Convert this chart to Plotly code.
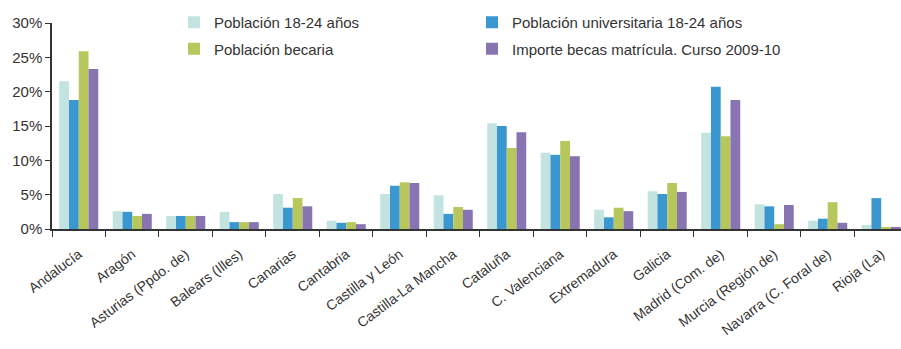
import plotly.graph_objects as go

categories = ["Andalucía", "Aragón", "Asturias (Ppdo. de)", "Balears (Illes)", "Canarias",
              "Cantabria", "Castilla y León", "Castilla-La Mancha", "Cataluña", "C. Valenciana",
              "Extremadura", "Galicia", "Madrid (Com. de)", "Murcia (Región de)",
              "Navarra (C. Foral de)", "Rioja (La)"]

pob_18_24 = [21.5, 2.6, 1.9, 2.5, 5.1, 1.2, 5.1, 4.9, 15.4, 11.1, 2.8, 5.5, 14.0, 3.6, 1.2, 0.6]
pob_univ = [18.8, 2.5, 1.9, 1.0, 3.1, 0.9, 6.3, 2.2, 15.0, 10.8, 1.7, 5.1, 20.7, 3.3, 1.5, 4.5]
pob_becaria = [25.9, 1.9, 1.9, 1.0, 4.5, 1.0, 6.8, 3.2, 11.8, 12.8, 3.1, 6.7, 13.5, 0.7, 3.9, 0.3]
importe = [23.3, 2.2, 1.9, 1.0, 3.3, 0.7, 6.7, 2.8, 14.1, 10.6, 2.6, 5.4, 18.8, 3.5, 0.9, 0.3]

series_names = ["Población 18-24 años", "Población universitaria 18-24 años",
                "Población becaria", "Importe becas matrícula. Curso 2009-10"]
colors = ["#c3e3e1", "#3a97d0", "#b8c75c", "#8874b0"]
legends = ["legend", "legend2", "legend", "legend2"]

y_ticks = [0, 5, 10, 15, 20, 25, 30]
y_ticktext = [f"{v}%" for v in y_ticks]

fig = go.Figure()
for name, vals, col, lg in zip(series_names, [pob_18_24, pob_univ, pob_becaria, importe], colors, legends):
    fig.add_trace(go.Bar(x=categories, y=vals, name=name, marker_color=col,
                         marker_line_width=0, legend=lg, legendgroup=name))

font_family = "Liberation Sans, Arial, sans-serif"
legend_common = dict(xanchor="left", yanchor="top", orientation="v", xref="container",
                     yref="container", font=dict(size=15, color="#333333"),
                     tracegroupgap=4, bgcolor="rgba(0,0,0,0)")
fig.update_layout(
    width=901, height=349,
    margin=dict(l=52, r=0, t=23, b=120, autoexpand=False),
    paper_bgcolor="white", plot_bgcolor="white",
    barmode="group", bargap=0.27, bargroupgap=0,
    font=dict(family=font_family, color="#333333", size=14),
    legend=dict(x=174 / 901, y=1 - 6 / 349, **legend_common),
    legend2=dict(x=472 / 901, y=1 - 6 / 349, **legend_common),
    xaxis=dict(range=[-0.5, 15.37], showline=True, linecolor="#333333", linewidth=1.5,
               ticks="outside", tickson="boundaries", ticklen=6, tickcolor="#333333",
               tickangle=-37, tickfont=dict(size=14, color="#333333"), showgrid=False,
               automargin=False, ticklabelstandoff=10),
    yaxis=dict(range=[0, 30], tickvals=y_ticks, ticktext=y_ticktext, showline=True,
               linecolor="#333333", linewidth=1.5, ticks="outside", ticklen=5,
               tickcolor="#333333", tickfont=dict(size=15, color="#333333"),
               showgrid=False, zeroline=False, automargin=False),
)

fig.write_html("out.html", config={"displayModeBar": False},
               post_script="document.body.style.margin='0';document.body.style.overflow='hidden';")
